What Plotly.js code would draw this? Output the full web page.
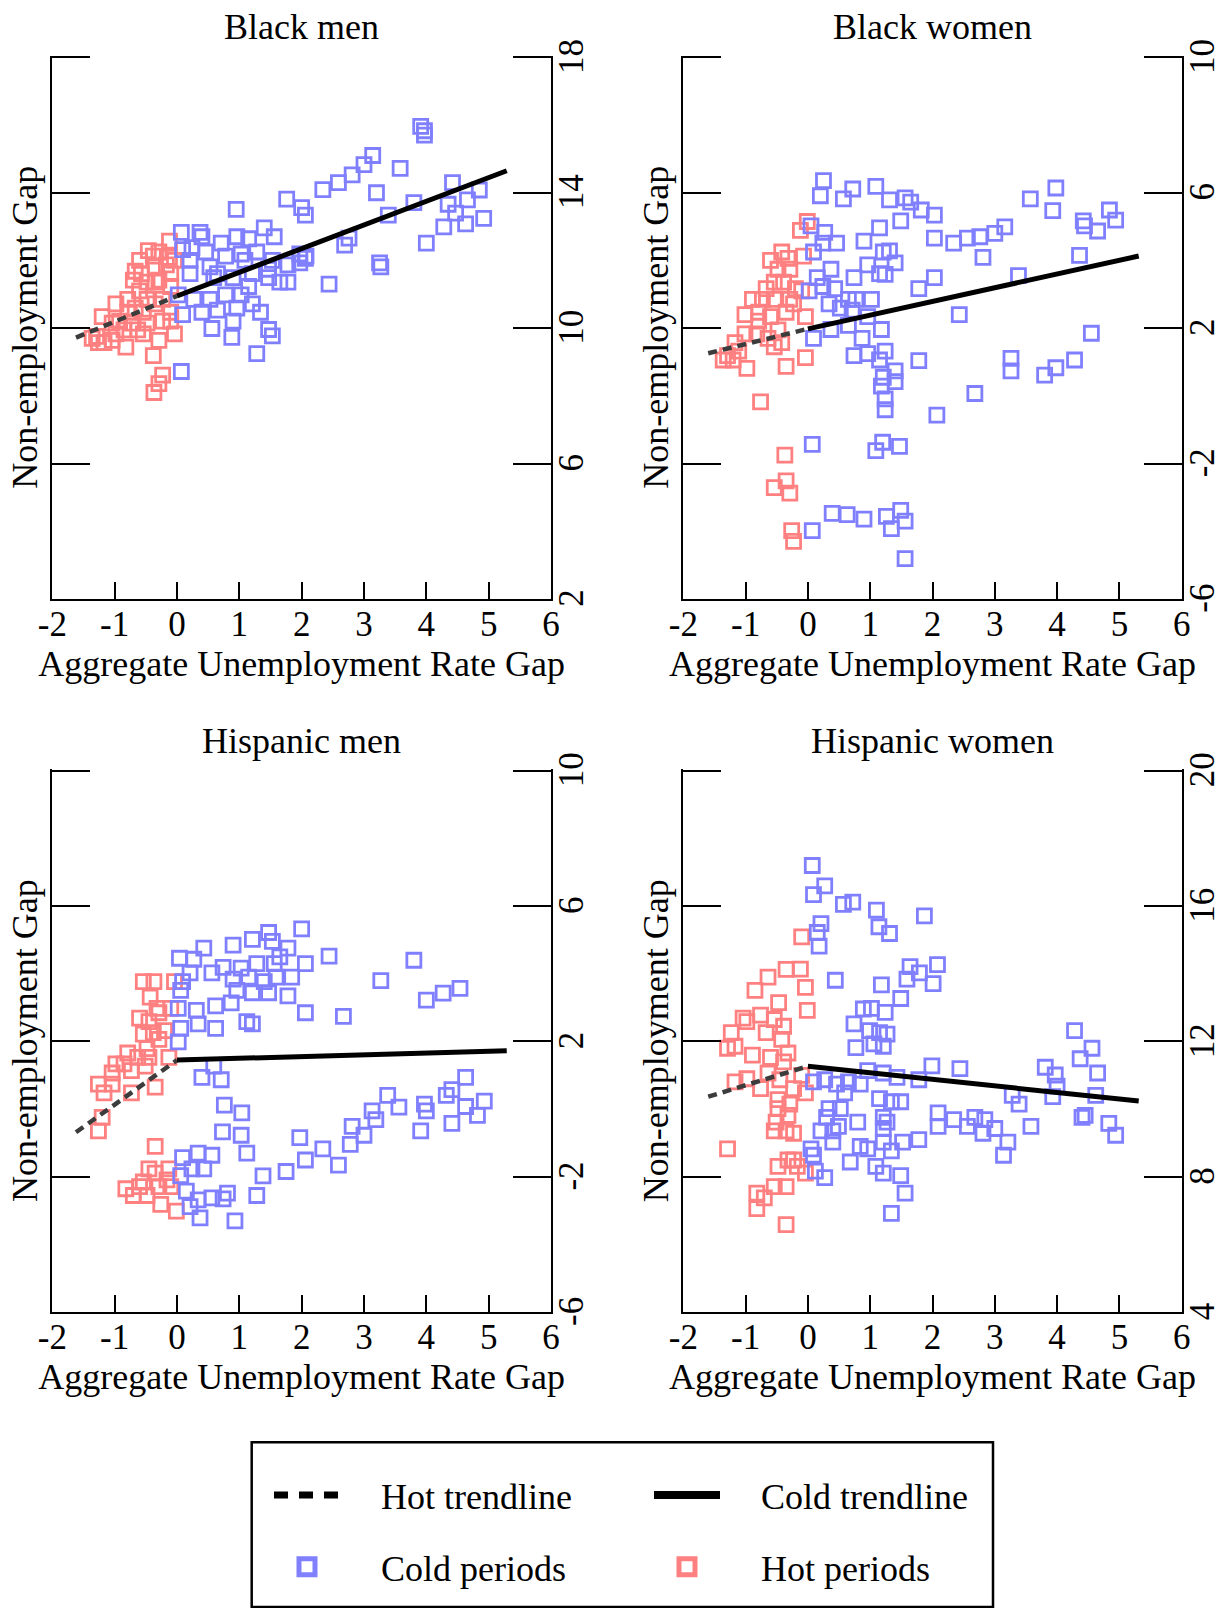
<!DOCTYPE html>
<html><head><meta charset="utf-8">
<script src="https://cdn.plot.ly/plotly-3.0.1.min.js"></script>
<style>html,body{margin:0;padding:0;background:#fff;} #chart{width:1222px;height:1608px;}</style>
</head><body><div id="chart"></div>
<script>
// ---------- Data ----------
const panelTitles = ['Black men', 'Black women', 'Hispanic men', 'Hispanic women'];
const xTickVals = [-2, -1, 0, 1, 2, 3, 4, 5, 6];
const xTickText = ['-2', '-1', '0', '1', '2', '3', '4', '5', '6'];
const bmTickVals = [2, 6, 10, 14, 18];
const bmTickText = ['2', '6', '10', '14', '18'];
const bwTickVals = [-6, -2, 2, 6, 10];
const bwTickText = ['-6', '-2', '2', '6', '10'];
const hmTickVals = [-6, -2, 2, 6, 10];
const hmTickText = ['-6', '-2', '2', '6', '10'];
const hwTickVals = [4, 8, 12, 16, 20];
const hwTickText = ['4', '8', '12', '16', '20'];
const legendNames = ['Hot trendline', 'Cold periods', 'Cold trendline', 'Hot periods'];

// Black men
const bmHotX = [-0.12,-0.46,-0.12,-0.38,-0.67,-0.57,-0.35,-0.10,-0.70,-0.48,-0.29,-0.79,-0.60,-0.98,-1.20,-1.04,-1.29,-1.17,-0.85,-0.73,-0.54,-0.35,-0.23,-0.10,-0.82,-0.54,-0.29,-0.04,-0.38,-0.23,-0.29,-0.37,-0.98,-0.67,-0.48,-0.23,-0.10,-0.04,-0.48,-0.79,-1.36,-1.26,-0.60,-0.29,-0.17,-0.35,-0.92,-1.04,-0.63,-0.10];
const bmHotY = [12.57,12.29,12.09,12.13,11.68,11.61,11.81,11.61,11.42,11.36,11.42,10.85,11.10,10.72,10.34,10.15,9.76,9.57,9.95,10.15,10.47,10.72,10.85,10.47,9.44,9.83,9.64,9.83,9.19,8.61,8.36,8.10,9.83,10.59,10.15,10.21,11.23,12.00,10.85,10.47,9.70,9.57,12.00,12.25,11.87,11.36,10.21,9.64,9.95,10.21];
const bmColdX = [0.07,0.37,0.40,0.09,0.24,0.21,0.46,0.71,0.96,1.15,1.40,1.56,0.21,0.53,0.78,1.03,1.28,1.53,1.78,1.97,2.06,0.65,0.90,1.21,1.47,1.65,1.78,2.44,0.02,0.27,0.53,0.78,1.03,0.09,0.40,0.65,0.96,1.21,1.34,0.56,0.90,0.88,1.47,1.53,1.28,0.07,0.95,1.76,2.00,2.06,2.34,2.59,2.81,3.00,3.14,3.58,3.20,3.39,3.80,3.91,3.97,4.42,4.35,4.66,4.85,4.47,4.63,4.28,4.92,4.00,3.25,3.27,2.69,2.76,2.07,1.97,3.97,1.47,1.09,0.59,1.15];
const bmColdY = [12.83,12.83,12.70,12.32,12.38,12.00,12.25,12.51,12.70,12.64,12.96,12.70,11.61,11.81,12.13,12.19,12.25,12.00,11.87,12.19,12.06,11.61,11.49,11.61,11.49,11.36,11.36,11.30,10.98,10.85,10.85,10.98,10.98,10.40,10.47,10.53,10.59,10.72,10.47,9.99,10.21,9.73,9.96,9.77,9.25,8.72,13.51,13.81,13.56,13.34,14.09,14.30,14.53,14.83,15.10,14.72,14.00,13.34,13.71,15.96,15.70,14.30,13.66,13.79,14.08,13.40,13.08,12.99,13.24,12.51,11.93,11.81,12.45,12.66,12.13,11.93,15.83,11.74,12.00,11.49,11.23];
const bmHotTrendX = [-1.62, 0];
const bmHotTrendY = [9.72, 10.95];
const bmColdTrendX = [0, 5.29];
const bmColdTrendY = [10.95, 14.65];

// Black women
const bwHotX = [-0.01,-0.12,-0.60,-0.42,-0.32,-0.07,-0.48,-0.29,-0.54,-0.39,-0.67,-0.20,-0.89,-0.73,-0.54,-0.29,-0.10,-1.01,-0.79,-0.60,-0.35,-0.04,-0.79,-1.17,-1.01,-0.82,-0.64,-0.42,-1.29,-1.20,-0.98,-0.04,-0.35,-0.76,-0.37,-0.54,-0.35,-0.29,-0.26,-0.23,-1.36,-1.11,-0.48,-0.23,-0.54];
const bwHotY = [5.15,4.89,4.00,4.25,4.06,4.13,3.74,3.74,3.36,3.36,3.17,3.17,2.85,2.85,2.85,2.85,3.10,2.40,2.47,2.34,2.47,2.34,2.21,1.57,1.83,1.83,1.70,1.57,1.19,1.06,0.81,1.13,0.87,-0.18,-1.75,-2.71,-2.51,-2.87,-3.98,-4.30,1.06,1.32,1.95,2.72,1.45];
const bwColdX = [0.25,0.20,0.57,0.72,1.09,1.31,1.56,1.65,1.82,2.03,1.49,1.15,0.90,1.21,1.31,1.40,0.96,0.74,1.15,1.24,0.05,0.27,0.24,0.46,0.09,0.37,0.15,0.24,0.02,0.43,0.65,0.77,1.02,0.34,0.52,0.71,0.96,0.37,0.65,0.09,1.18,0.87,0.74,0.96,1.24,1.15,1.40,1.21,1.40,1.18,1.24,1.24,1.78,2.07,2.68,3.26,3.26,3.80,3.98,4.28,4.55,2.03,2.34,2.56,2.76,3.00,3.16,3.57,3.98,3.93,4.42,4.44,4.65,4.84,4.94,2.81,3.38,4.36,1.78,2.03,2.43,0.07,1.09,1.20,1.47,0.39,0.63,0.90,1.26,1.49,1.34,1.56,0.07,1.56];
const bwColdY = [6.36,5.91,5.82,6.11,6.19,5.79,5.85,5.72,5.49,5.34,5.17,4.96,4.57,4.25,4.28,3.93,3.87,3.49,3.61,3.59,5.02,4.83,4.51,4.51,4.25,3.74,3.49,3.23,3.10,3.17,2.85,2.85,2.85,2.72,2.59,2.53,2.34,1.96,2.08,1.70,1.96,1.70,1.19,1.25,1.32,1.06,0.74,0.55,0.42,0.29,-0.09,-0.41,1.04,-0.57,0.07,1.11,0.74,0.61,0.83,1.06,1.85,4.66,4.51,4.66,4.70,4.80,4.99,5.82,6.14,5.47,5.17,5.02,4.87,5.49,5.19,4.09,3.55,4.15,3.17,3.49,2.40,-1.43,-1.62,-1.37,-1.49,-3.47,-3.51,-3.64,-3.56,-3.38,-3.92,-3.70,-3.98,-4.81];
const bwHotTrendX = [-1.60, 0];
const bwHotTrendY = [1.26, 1.98];
const bwColdTrendX = [0, 5.31];
const bwColdTrendY = [1.98, 4.13];

// Hispanic men
const hmHotX = [-0.54,-0.37,-0.04,-0.43,-0.60,-0.45,-0.29,-0.10,-0.38,-0.20,-0.54,-0.29,-0.79,-0.63,-0.45,-0.98,-1.04,-0.73,-0.51,-0.13,-1.26,-1.04,-0.73,-0.35,-1.17,-1.20,-1.26,-0.35,-0.82,-0.70,-0.54,-0.45,-0.35,-0.13,-0.29,-0.48,-0.26,-0.01,-0.16,-0.60,-0.10,-0.32,-0.48,-0.85];
const hmHotY = [3.77,3.77,3.77,3.31,2.69,2.59,2.85,2.98,2.26,2.32,2.22,2.06,1.66,1.53,1.53,1.34,1.07,1.14,1.27,1.53,0.74,0.74,0.48,0.65,0.48,-0.24,-0.64,-1.10,-2.35,-2.55,-2.15,-1.76,-1.89,-1.76,-2.29,-2.55,-2.81,-3.01,-2.09,-2.29,-2.29,2.98,1.79,1.34];
const hmColdX = [0.04,0.27,0.43,0.90,1.21,1.47,1.53,1.78,2.00,2.44,3.80,0.56,0.74,1.03,1.28,1.56,1.65,2.06,0.09,0.21,0.90,1.15,1.40,1.59,1.84,0.06,0.96,1.21,1.47,1.78,0.02,0.31,0.62,0.87,0.34,0.62,1.12,1.21,2.06,2.67,3.27,4.00,4.27,4.54,0.06,0.02,0.40,0.59,0.71,0.76,1.04,0.73,1.03,1.12,1.38,1.75,1.97,2.06,2.34,2.59,2.78,2.81,3.00,3.13,3.19,3.38,3.56,3.97,3.91,4.00,4.32,4.41,4.63,4.63,4.82,4.93,4.41,0.09,0.34,0.56,0.24,0.43,0.06,0.15,0.34,0.56,0.74,0.81,1.28,0.37,0.93,0.21];
const hmColdY = [4.46,4.43,4.76,4.85,5.02,5.22,4.96,4.76,5.33,4.52,4.40,4.03,4.19,4.17,4.30,4.30,4.50,4.30,3.77,4.03,3.84,3.90,3.77,3.90,3.90,3.51,3.51,3.44,3.44,3.35,2.98,2.92,3.05,3.14,2.52,2.39,2.59,2.52,2.85,2.74,3.80,3.22,3.43,3.57,2.39,1.99,0.94,1.27,0.87,0.12,-0.11,-0.67,-0.77,-1.30,-1.97,-1.84,-0.84,-1.50,-1.17,-1.65,-1.04,-0.51,-0.77,-0.05,-0.31,0.41,0.06,0.15,-0.64,-0.05,0.41,0.58,0.94,0.08,-0.18,0.24,-0.42,-1.43,-1.30,-1.36,-1.76,-1.76,-1.96,-2.42,-2.68,-2.62,-2.65,-2.48,-2.55,-3.21,-3.30,-2.88];
const hmHotTrendX = [-1.62, 0];
const hmHotTrendY = [-0.68, 1.45];
const hmColdTrendX = [0, 5.29];
const hmColdTrendY = [1.45, 1.73];

// Hispanic women
const hwHotX = [-0.10,-0.35,-0.12,-0.64,-0.85,-0.04,-0.47,-0.01,-1.04,-0.98,-0.76,-0.54,-0.39,-1.23,-0.67,-0.42,-1.29,-1.17,-0.89,-0.60,-0.39,-0.32,-0.64,-0.45,-0.10,-1.17,-0.98,-0.76,-0.23,-0.04,-0.48,-0.29,-0.48,-0.32,-0.51,-0.54,-0.35,-0.23,-1.29,-0.48,-0.32,-0.23,-0.04,-0.82,-0.70,-0.54,-0.35,-0.82,-0.35,-0.17];
const hwHotY = [15.09,14.13,14.14,13.90,13.51,13.60,13.15,12.92,12.69,12.59,12.78,12.65,12.45,12.26,12.26,12.06,11.80,11.86,11.60,11.53,11.40,11.66,11.07,10.87,11.00,10.81,10.90,10.61,10.61,10.48,10.28,10.15,10.02,9.82,9.62,9.36,9.36,9.29,8.83,8.31,8.50,8.50,8.11,7.52,7.38,7.71,7.71,7.06,6.59,8.31];
const hwColdX = [0.07,0.09,0.27,0.21,0.15,0.18,0.57,0.72,1.10,1.14,1.31,1.87,0.44,1.18,1.64,1.59,1.79,2.08,2.01,1.49,1.24,0.89,1.02,0.74,0.99,1.15,1.27,0.77,1.06,1.21,0.09,0.27,0.46,0.65,0.84,0.59,0.96,1.21,1.43,1.78,1.99,2.44,4.28,4.56,4.37,3.81,3.97,4.00,4.65,3.93,4.62,3.28,3.39,1.15,1.34,1.49,0.34,0.52,0.30,0.21,0.40,0.49,0.80,1.21,1.27,1.21,2.09,2.09,2.34,2.56,2.68,2.84,2.81,3.00,3.21,3.14,3.58,4.40,4.45,4.83,4.94,0.40,0.84,0.96,1.21,1.34,1.78,1.52,0.05,0.09,0.68,1.09,1.21,1.49,1.56,0.12,0.27,1.34];
const hwColdY = [17.20,16.34,16.60,15.48,15.22,14.82,16.05,16.12,15.88,15.39,15.19,15.71,13.81,13.67,14.21,13.84,14.03,14.27,13.71,13.27,12.86,12.96,12.98,12.52,12.32,12.26,12.22,11.82,11.93,11.86,10.81,10.87,10.74,10.81,10.74,10.48,11.14,11.07,10.94,10.87,11.28,11.20,12.32,11.80,11.49,11.24,11.01,10.68,11.07,10.37,10.41,10.41,10.15,10.31,10.22,10.22,10.02,10.02,9.76,9.36,9.36,9.49,9.62,9.76,9.62,9.43,9.89,9.49,9.69,9.49,9.76,9.69,9.29,9.43,9.03,8.64,9.49,9.76,9.82,9.58,9.23,9.03,8.90,8.83,9.03,8.77,9.10,9.03,8.83,8.64,8.44,8.31,8.11,8.04,7.52,8.17,7.98,6.92];
const hwHotTrendX = [-1.60, 0];
const hwHotTrendY = [10.37, 11.27];
const hwColdTrendX = [0, 5.31];
const hwColdTrendY = [11.27, 10.24];

// ---------- Styling ----------
const FONT = '"Liberation Serif", "Times New Roman", Times, serif';
const BLUE = 'rgb(128,128,255)';
const RED = 'rgb(255,128,128)';
const W = 1222, H = 1608;
const PAD = '\u00a0\u00a0\u00a0\u00a0';

function pts(x, y, color, xa, ya) {
  return {type: 'scatter', mode: 'markers', x: x, y: y, xaxis: xa, yaxis: ya,
    marker: {symbol: 'square-open', size: 14, color: color, line: {width: 2.8, color: color}},
    showlegend: false, hoverinfo: 'skip'};
}
function hotLine(x, y, xa, ya) {
  return {type: 'scatter', mode: 'lines', x: x, y: y, xaxis: xa, yaxis: ya,
    line: {color: '#3c3c3c', width: 4.5, dash: '9px,6px'}, showlegend: false, hoverinfo: 'skip'};
}
function coldLine(x, y, xa, ya) {
  return {type: 'scatter', mode: 'lines', x: x, y: y, xaxis: xa, yaxis: ya,
    line: {color: '#000000', width: 5}, showlegend: false, hoverinfo: 'skip'};
}

const panels = [
  [bmHotX, bmHotY, bmColdX, bmColdY, bmHotTrendX, bmHotTrendY, bmColdTrendX, bmColdTrendY],
  [bwHotX, bwHotY, bwColdX, bwColdY, bwHotTrendX, bwHotTrendY, bwColdTrendX, bwColdTrendY],
  [hmHotX, hmHotY, hmColdX, hmColdY, hmHotTrendX, hmHotTrendY, hmColdTrendX, hmColdTrendY],
  [hwHotX, hwHotY, hwColdX, hwColdY, hwHotTrendX, hwHotTrendY, hwColdTrendX, hwColdTrendY]
];
const traces = [];
panels.forEach(function (p, i) {
  const n = i === 0 ? '' : String(i + 1);
  const xa = 'x' + n, ya = 'y' + n, yr = 'y' + (i + 5);
  traces.push(pts(p[0], p[1], RED, xa, ya));
  traces.push(pts(p[2], p[3], BLUE, xa, ya));
  // trendlines are drawn against the right-hand (labelled) axis, which has the same range
  traces.push(hotLine(p[4], p[5], xa, yr));
  traces.push(coldLine(p[6], p[7], xa, yr));
});

// legend-only entries
const nothing = [null];
traces.push({type: 'scatter', mode: 'lines', x: nothing, y: nothing, name: PAD + legendNames[0], legend: 'legend',
  legendgroup: 'a', line: {color: '#000', width: 7, dash: '14px,11px'}, hoverinfo: 'skip'});
traces.push({type: 'scatter', mode: 'markers', x: nothing, y: nothing, name: PAD + legendNames[1], legend: 'legend',
  legendgroup: 'b', marker: {symbol: 'square-open', size: 16, color: BLUE, line: {width: 5, color: BLUE}}, hoverinfo: 'skip'});
traces.push({type: 'scatter', mode: 'lines', x: nothing, y: nothing, name: PAD + legendNames[2], legend: 'legend2',
  legendgroup: 'c', line: {color: '#000', width: 8}, hoverinfo: 'skip'});
traces.push({type: 'scatter', mode: 'markers', x: nothing, y: nothing, name: PAD + legendNames[3], legend: 'legend2',
  legendgroup: 'd', marker: {symbol: 'square-open', size: 16, color: RED, line: {width: 5, color: RED}}, hoverinfo: 'skip'});

// ---------- Layout ----------
// top of each y range is extended by a hair so that the top tick is drawn
const EXT = 0.05;
const pxPerUnit = (599 - 57.3) / 16;
const topPad = EXT * pxPerUnit;
const xDoms = [[52.3 / W, 551 / W], [683.3 / W, 1181.7 / W]];
const yDoms = [[1 - 599 / H, 1 - (57.3 - topPad) / H], [1 - 1312.3 / H, 1 - (770.7 - topPad) / H]];
const yRanges = [[2, 18 + EXT], [-6, 10 + EXT], [-6, 10 + EXT], [4, 20 + EXT]];
const yTicks = [[bmTickVals, bmTickText], [bwTickVals, bwTickText], [hmTickVals, hmTickText], [hwTickVals, hwTickText]];

const layout = {
  width: W, height: H,
  margin: {l: 0, r: 0, t: 0, b: 0, pad: 0},
  paper_bgcolor: '#ffffff', plot_bgcolor: 'rgba(0,0,0,0)',
  font: {family: FONT, color: '#000'},
  showlegend: true,
  annotations: [], shapes: []
};

for (let i = 0; i < 4; i++) {
  const col = i % 2, row = Math.floor(i / 2);
  const n = i === 0 ? '' : String(i + 1);
  const xd = xDoms[col], yd = yDoms[row];
  layout['xaxis' + n] = {
    domain: xd, anchor: 'y' + n, range: [-2, 6], tickmode: 'array', tickvals: xTickVals, ticktext: xTickText,
    ticks: 'inside', ticklen: 17, tickwidth: 2, tickcolor: '#000', showline: true, linewidth: 2, linecolor: '#000',
    showgrid: false, zeroline: false, tickfont: {family: FONT, size: 35, color: '#000'}, ticklabelstandoff: -7,
    title: {text: 'Aggregate Unemployment Rate Gap', font: {family: FONT, size: 36, color: '#000'}, standoff: 4},
    automargin: false, fixedrange: true
  };
  layout['yaxis' + n] = {
    domain: yd, anchor: 'x' + n, range: yRanges[i], tickmode: 'array', tickvals: yTicks[i][0],
    ticks: 'inside', ticklen: 38, tickwidth: 2, tickcolor: '#000', showline: true, linewidth: 2, linecolor: '#000',
    showgrid: false, zeroline: false, showticklabels: false,
    title: {text: 'Non-employment Gap', font: {family: FONT, size: 36, color: '#000'}, standoff: 2},
    automargin: false, fixedrange: true
  };
  layout['yaxis' + (i + 5)] = {
    overlaying: 'y' + n, side: 'right', anchor: 'x' + n, range: yRanges[i], tickmode: 'array',
    tickvals: yTicks[i][0], ticktext: yTicks[i][1].map(function (t) { return t + '\u00a0'; }), tickangle: -90,
    ticks: 'inside', ticklen: 38, tickwidth: 2, tickcolor: '#000', showline: true, linewidth: 2, linecolor: '#000',
    showgrid: false, zeroline: false, tickfont: {family: FONT, size: 35, color: '#000'}, ticklabelstandoff: -12,
    automargin: false, fixedrange: true
  };
  layout.annotations.push({
    text: panelTitles[i], xref: 'paper', yref: 'paper', x: (xd[0] + xd[1]) / 2,
    y: row === 0 ? 1 - 27.5 / H : 1 - 740.5 / H, xanchor: 'center', yanchor: 'middle', showarrow: false,
    font: {family: FONT, size: 36, color: '#000'}
  });
}

const legendCommon = {
  orientation: 'v', xanchor: 'left', yanchor: 'top', xref: 'paper', yref: 'paper',
  font: {family: FONT, size: 36, color: '#000'}, bgcolor: 'rgba(0,0,0,0)', borderwidth: 0,
  itemwidth: 66, traceorder: 'grouped', tracegroupgap: 22, itemclick: false, itemdoubleclick: false
};
layout.legend = Object.assign({}, legendCommon, {x: 269 / W, y: 1 - 1465 / H});
layout.legend2 = Object.assign({}, legendCommon, {x: 649 / W, y: 1 - 1465 / H});

layout.shapes.push({type: 'rect', xref: 'paper', yref: 'paper', x0: 251.7 / W, x1: 993 / W,
  y0: 1 - 1442.3 / H, y1: 1 - 1607 / H, line: {color: '#000', width: 2.5}, fillcolor: 'rgba(0,0,0,0)', layer: 'below'});

Plotly.newPlot('chart', traces, layout, {staticPlot: true, displayModeBar: false});
</script></body></html>
